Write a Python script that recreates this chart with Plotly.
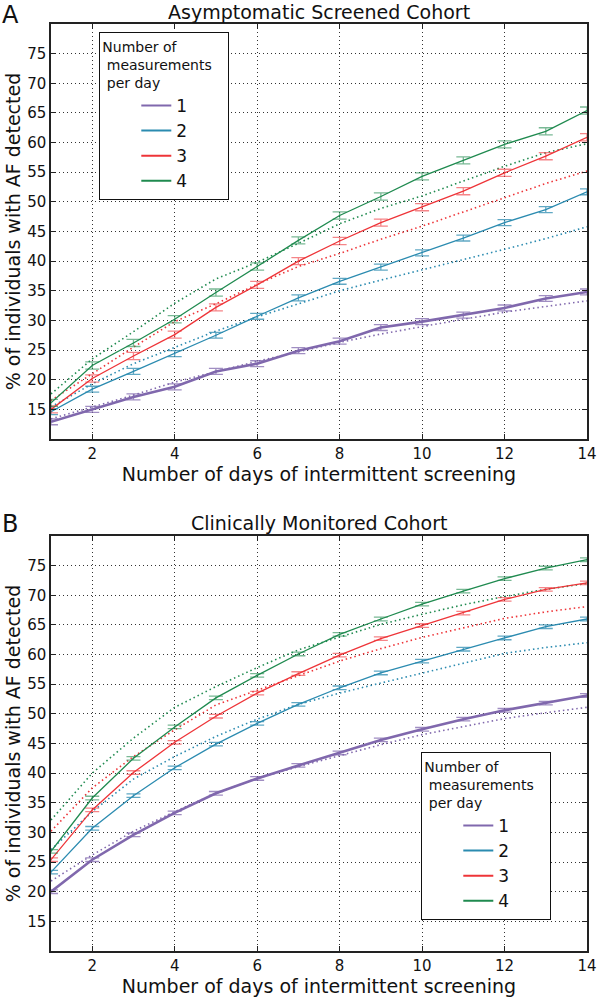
import plotly.graph_objects as go

days = list(range(1, 15))
series_names = ["1", "2", "3", "4"]
colors = ["#8068ad", "#2b8bb0", "#ee3438", "#1f8a4f"]
err_colors = ["rgba(128,104,173,0.75)", "rgba(43,139,176,0.75)", "rgba(238,52,56,0.6)", "rgba(31,138,79,0.6)"]

# Panel A: Asymptomatic Screened Cohort (observed, solid)
A_obs = [
    [12.9, 15.0, 17.1, 18.8, 21.4, 22.7, 24.9, 26.5, 28.8, 29.8, 30.9, 32.1, 33.7, 34.8],
    [14.6, 18.4, 21.4, 24.4, 27.5, 30.7, 33.8, 36.6, 39.0, 41.4, 43.9, 46.5, 48.7, 51.7],
    [15.0, 20.2, 24.0, 27.6, 32.2, 36.0, 40.0, 43.4, 46.5, 49.1, 51.8, 54.9, 57.7, 60.9],
    [16.1, 22.4, 26.2, 30.2, 34.7, 39.1, 43.5, 47.7, 50.9, 54.3, 57.0, 59.7, 61.9, 65.4],
]
A_err = [0.5, 0.5, 0.6, 0.6]
# Panel A model (dotted)
A_mod = [
    [13.4, 15.4, 17.4, 19.6, 21.4, 23.1, 24.7, 26.3, 27.7, 29.0, 30.2, 31.4, 32.4, 33.3],
    [15.4, 19.3, 22.7, 25.5, 28.2, 30.6, 32.8, 35.0, 36.8, 38.5, 40.3, 42.0, 43.8, 45.8],
    [16.5, 21.0, 25.5, 29.8, 32.8, 36.1, 39.1, 41.3, 43.7, 45.9, 48.3, 50.8, 53.1, 55.2],
    [17.6, 23.5, 28.1, 32.9, 37.0, 39.8, 43.0, 46.3, 48.9, 51.0, 53.5, 56.0, 58.3, 59.8],
]

# Panel B: Clinically Monitored Cohort
B_obs = [
    [20.0, 25.4, 29.6, 33.3, 36.6, 39.1, 41.3, 43.4, 45.6, 47.4, 49.1, 50.6, 51.8, 53.1],
    [23.3, 30.7, 36.2, 40.9, 44.9, 48.4, 51.6, 54.4, 56.9, 58.9, 60.9, 62.8, 64.7, 66.0],
    [25.4, 33.8, 40.1, 45.2, 49.6, 53.5, 56.8, 59.9, 62.7, 64.9, 67.0, 69.3, 71.0, 72.1],
    [26.8, 35.8, 42.5, 47.8, 52.7, 56.5, 60.1, 63.4, 66.0, 68.5, 70.7, 72.8, 74.6, 76.0],
]
B_err = [0.3, 0.3, 0.3, 0.3]
B_mod = [
    [21.8, 26.2, 30.2, 33.5, 36.6, 39.1, 41.1, 43.0, 44.8, 46.5, 47.9, 49.2, 50.2, 51.1],
    [27.1, 33.5, 39.0, 42.8, 46.2, 49.1, 51.6, 53.5, 55.2, 56.9, 58.6, 60.2, 61.2, 62.0],
    [30.2, 37.5, 42.8, 47.3, 51.5, 54.0, 56.5, 58.9, 61.0, 62.9, 64.5, 66.1, 67.2, 68.1],
    [32.1, 40.0, 45.9, 51.1, 54.6, 57.8, 60.8, 62.9, 65.1, 66.8, 68.4, 69.8, 71.0, 72.0],
]

titles = ["Asymptomatic Screened Cohort", "Clinically Monitored Cohort"]
panel_letters = ["A", "B"]
x_title = "Number of days of intermittent screening"
y_title = "% of individuals with AF detected"
legend_title = "Number of<br>\u00a0measurements\u00a0\u00a0\u00a0<br>\u00a0per day"
x_ticks = [2, 4, 6, 8, 10, 12, 14]
y_ticks = [15, 20, 25, 30, 35, 40, 45, 50, 55, 60, 65, 70, 75]

W, H = 600, 999
ML, MR, MT, MB = 51, 13, 24, 48
PH = H - MT - MB


def py(pix):  # pixel y (from top) -> paper y
    return (H - MB - pix) / PH


def px(pix):
    return (pix - ML) / (W - ML - MR)


FONT = "DejaVu Sans"
fig = go.Figure()

panels = [(A_obs, A_mod, A_err, "x", "y", "legend"), (B_obs, B_mod, B_err, "x2", "y2", "legend2")]
for obs, mod, errs, xa, ya, lg in panels:
    for i in range(4):
        fig.add_trace(go.Scatter(
            x=days, y=mod[i], mode="lines", xaxis=xa, yaxis=ya,
            line=dict(color=colors[i], width=1.6, dash="1.5px,3px"),
            showlegend=False, hoverinfo="skip"))
    for i in range(4):
        fig.add_trace(go.Scatter(
            x=days, y=obs[i], mode="lines", xaxis=xa, yaxis=ya,
            name=series_names[i], legend=lg, legendgroup=lg + series_names[i],
            showlegend=False,
            line=dict(color=colors[i], width=2.6 if i == 0 else 1.3),
            error_y=dict(type="constant", value=errs[i], color=err_colors[i],
                         thickness=1.3, width=7)))
    # legend entries (thin sample lines as in the original legend)
    for i in range(4):
        fig.add_trace(go.Scatter(
            x=[None], y=[None], mode="lines", xaxis=xa, yaxis=ya,
            name=series_names[i], legend=lg, legendgroup=lg + series_names[i],
            line=dict(color=colors[i], width=2), showlegend=True))

axis_common = dict(
    showgrid=True, gridcolor="#333333", gridwidth=1, griddash="1px,3px",
    showline=True, linecolor="#222222", linewidth=1.5, mirror="ticks",
    ticks="inside", ticklen=5, tickcolor="#222222", zeroline=False, automargin=False,
    tickfont=dict(family=FONT, size=15, color="#111111"),
)
yaxis_common = dict(axis_common)
yaxis_common.update(range=[10, 80], tickvals=y_ticks)
xaxis_common = dict(axis_common)
xaxis_common.update(range=[1, 14], tickvals=x_ticks)

top_dom = [py(439), py(24)]
bot_dom = [py(951), py(536)]

legend_common = dict(
    xanchor="left", yanchor="top",
    bordercolor="#111111", borderwidth=1.3, bgcolor="white",
    title=dict(text=legend_title, font=dict(size=14, family=FONT)),
    font=dict(size=17, family=FONT), itemwidth=30, indentation=36,
    tracegroupgap=0,
)

fig.update_layout(
    width=W, height=H,
    margin=dict(l=ML, r=MR, t=MT, b=MB, autoexpand=False),
    plot_bgcolor="white", paper_bgcolor="white",
    font=dict(family=FONT, color="#111111"),
    xaxis=dict(xaxis_common, domain=[0, 1], anchor="y",
               title=dict(text=x_title, font=dict(size=19), standoff=4)),
    yaxis=dict(yaxis_common, domain=top_dom, anchor="x",
               title=dict(text=y_title, font=dict(size=19), standoff=2)),
    xaxis2=dict(xaxis_common, domain=[0, 1], anchor="y2",
                title=dict(text=x_title, font=dict(size=19), standoff=4)),
    yaxis2=dict(yaxis_common, domain=bot_dom, anchor="x2",
                title=dict(text=y_title, font=dict(size=19), standoff=2)),
    legend=dict(legend_common, x=px(99), y=py(32)),
    legend2=dict(legend_common, x=px(421), y=py(752)),
    showlegend=True,
)

title_pix = [12, 523]
letter_top = [0, 509]
for k in range(2):
    fig.add_annotation(text=titles[k], xref="paper", yref="paper",
                       x=px(319), y=py(title_pix[k]), xanchor="center", yanchor="middle",
                       showarrow=False, font=dict(size=19, family=FONT, color="#111111"))
    fig.add_annotation(text=panel_letters[k], xref="paper", yref="paper",
                       x=px(1), y=py(letter_top[k]), xanchor="left", yanchor="top",
                       borderpad=0, showarrow=False,
                       font=dict(size=24, family=FONT, color="#111111"))

fig.write_html("out.html", config={"displayModeBar": False},
               post_script="document.body.style.margin='0';")
